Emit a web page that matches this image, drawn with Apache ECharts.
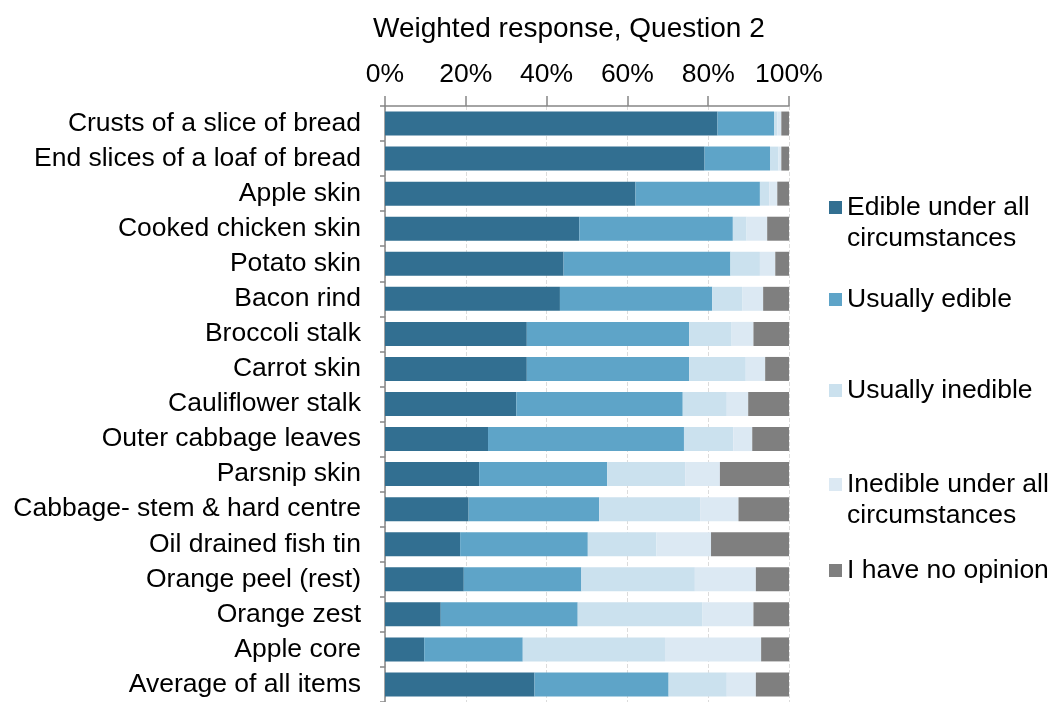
<!DOCTYPE html>
<html>
<head>
<meta charset="utf-8">
<title>Weighted response, Question 2</title>
<script src="https://cdn.jsdelivr.net/npm/echarts@6/dist/echarts.min.js"></script>
<style>
  html, body { margin: 0; padding: 0; background: #fff; }
  #chart { width: 1052px; height: 702px; }
</style>
</head>
<body>
<div id="chart"></div>
<script>
// Food items, listed top to bottom
const categories = [
  'Crusts of a slice of bread',
  'End slices of a loaf of bread',
  'Apple skin',
  'Cooked chicken skin',
  'Potato skin',
  'Bacon rind',
  'Broccoli stalk',
  'Carrot skin',
  'Cauliflower stalk',
  'Outer cabbage leaves',
  'Parsnip skin',
  'Cabbage- stem & hard centre',
  'Oil drained fish tin',
  'Orange peel (rest)',
  'Orange zest',
  'Apple core',
  'Average of all items'
];

// Share of responses (%) per answer
const edibleAll       = [82.3, 79.1, 62.0, 48.1, 44.2, 43.3, 35.1, 35.1, 32.5, 25.5, 23.3, 20.7, 18.6, 19.5, 13.8,  9.7, 37.0];
const usuallyEdible   = [14.0, 16.2, 30.8, 38.0, 41.3, 37.7, 40.2, 40.2, 41.2, 48.5, 31.7, 32.3, 31.6, 29.1, 33.9, 24.4, 33.2];
const usuallyInedible = [ 0.8,  2.1,  2.3,  3.4,  7.3,  7.4, 10.5, 14.0, 10.9, 12.2, 19.3, 25.0, 17.0, 28.1, 30.8, 35.2, 14.4];
const inedibleAll     = [ 1.0,  0.7,  2.0,  5.1,  3.8,  5.2,  5.4,  4.8,  5.3,  4.7,  8.6,  9.5, 13.5, 15.1, 12.7, 23.8,  7.2];
const noOpinion       = [ 1.9,  1.9,  2.9,  5.4,  3.4,  6.4,  8.8,  5.9, 10.1,  9.1, 17.1, 12.5, 19.3,  8.2,  8.8,  6.9,  8.2];

const tickValues = [0, 20, 40, 60, 80, 100];

// Two-line legend labels get a blank leading line so the swatch sits beside the first line
const seriesDefs = [
  { name: 'Edible under all circumstances',   label: '\u00a0\nEdible under all\ncircumstances',   data: edibleAll,       color: '#326f91', legendTop: 161 },
  { name: 'Usually edible',                   label: 'Usually edible',                            data: usuallyEdible,   color: '#5ea4c8', legendTop: 284 },
  { name: 'Usually inedible',                 label: 'Usually inedible',                          data: usuallyInedible, color: '#cbe1ee', legendTop: 375 },
  { name: 'Inedible under all circumstances', label: '\u00a0\nInedible under all\ncircumstances', data: inedibleAll,     color: '#dce9f3', legendTop: 438 },
  { name: 'I have no opinion',                label: 'I have no opinion',                         data: noOpinion,       color: '#7f7f7f', legendTop: 555 }
];

const FONT = '"Liberation Sans", Arial, sans-serif';
const FONT_SIZE = 26.5;
const AXIS_COLOR = '#868686';

const chart = echarts.init(document.getElementById('chart'), null, { renderer: 'canvas' });

const legends = seriesDefs.map(s => ({
  data: [s.name],
  orient: 'vertical',
  left: 829,
  top: s.legendTop,
  padding: 0,
  icon: 'rect',
  itemWidth: 13,
  itemHeight: 13,
  itemGap: 0,
  selectedMode: false,
  formatter: () => s.label,
  textStyle: {
    fontFamily: FONT,
    fontSize: FONT_SIZE,
    color: '#000',
    lineHeight: 31
  }
}));

chart.setOption({
  animation: false,
  backgroundColor: '#fff',
  title: {
    text: 'Weighted response, Question 2',
    left: 373,
    top: 12,
    padding: 0,
    textStyle: { fontFamily: FONT, fontSize: 28, fontWeight: 'normal', color: '#000', lineHeight: 34 }
  },
  legend: legends,
  grid: { left: 385, top: 106, width: 404, height: 598, containLabel: false },
  xAxis: {
    type: 'value',
    position: 'top',
    min: tickValues[0],
    max: tickValues[tickValues.length - 1],
    interval: tickValues[1] - tickValues[0],
    axisLine: { show: true, lineStyle: { color: AXIS_COLOR, width: 1.5 } },
    axisTick: { show: true, length: 10, lineStyle: { color: AXIS_COLOR, width: 1.5 } },
    axisLabel: { formatter: '{value}%', fontFamily: FONT, fontSize: FONT_SIZE, color: '#000', margin: 18, hideOverlap: false },
    splitLine: { show: true, lineStyle: { color: '#dcdcdc', type: 'dashed', width: 1 } }
  },
  yAxis: {
    type: 'category',
    data: categories,
    inverse: true,
    axisLine: { show: true, lineStyle: { color: AXIS_COLOR, width: 1.5 } },
    axisTick: { show: true, length: 5, interval: 0, lineStyle: { color: AXIS_COLOR, width: 1.5 } },
    axisLabel: { interval: 0, fontFamily: FONT, fontSize: FONT_SIZE, color: '#000', margin: 24, hideOverlap: false },
    splitLine: { show: false }
  },
  series: seriesDefs.map(s => ({
    name: s.name,
    type: 'bar',
    stack: 'total',
    barWidth: 24,
    data: s.data,
    itemStyle: { color: s.color },
    emphasis: { disabled: true }
  }))
});
</script>
</body>
</html>
